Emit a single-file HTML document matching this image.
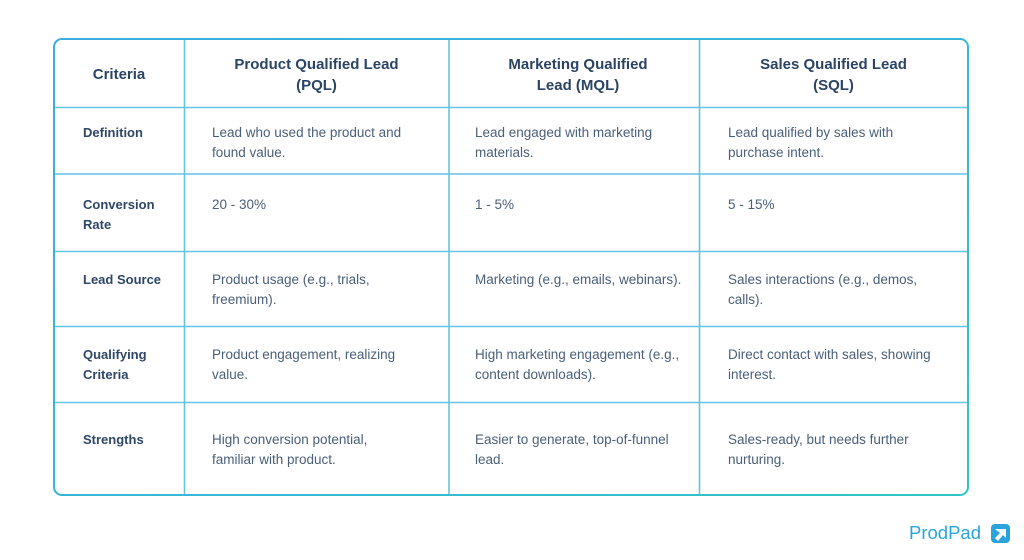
<!DOCTYPE html>
<html>
<head>
<meta charset="utf-8">
<style>
  html,body{margin:0;padding:0;background:#fff;}
  body{width:1024px;height:560px;position:relative;overflow:hidden;font-family:"Liberation Sans",sans-serif;}
  .t{position:absolute;white-space:nowrap;}
  .h{font-weight:bold;font-size:15px;line-height:21px;color:#2b4463;text-align:center;}
  .l{font-weight:bold;font-size:13px;line-height:20px;color:#2e4766;}
  .b{font-size:13.5px;line-height:20px;color:#4a5f78;}
  .logo{position:absolute;left:909px;top:521px;font-size:18.5px;color:#2aa5dc;line-height:24px;}
</style>
</head>
<body>
<svg width="1024" height="560" style="position:absolute;left:0;top:0">
  <defs>
    <linearGradient id="g" x1="0" y1="0" x2="1" y2="1">
      <stop offset="0" stop-color="#39aedf"/>
      <stop offset="0.6" stop-color="#37b8d8"/>
      <stop offset="1" stop-color="#2ec6c3"/>
    </linearGradient>
  </defs>
  <g stroke="#62c5e3" stroke-width="1.6">
    <line x1="184.5" y1="39" x2="184.5" y2="495"/>
    <line x1="449" y1="39" x2="449" y2="495"/>
    <line x1="699.5" y1="39" x2="699.5" y2="495"/>
    <line x1="54" y1="107.5" x2="968" y2="107.5"/>
    <line x1="54" y1="174" x2="968" y2="174"/>
    <line x1="54" y1="251.5" x2="968" y2="251.5"/>
    <line x1="54" y1="326.5" x2="968" y2="326.5"/>
    <line x1="54" y1="402.5" x2="968" y2="402.5"/>
  </g>
  <rect x="54" y="39" width="914" height="456" rx="8" ry="8" fill="none" stroke="url(#g)" stroke-width="2"/>
  <!-- logo icon -->
  <rect x="991" y="524" width="19" height="19" rx="4" fill="#2aa5dc"/>
  <path d="M995 529 L1006 529 L1006 538 L1003 535 L998 541 L995 538 L1000 533 Z" fill="#fff"/>
</svg>

<!-- header -->
<div class="t h" style="left:54px;width:130px;top:63.5px;">Criteria</div>
<div class="t h" style="left:184px;width:295px;margin-left:-15px;top:53.5px;">Product Qualified Lead<br>(PQL)</div>
<div class="t h" style="left:449px;width:258px;top:53.5px;">Marketing Qualified<br>Lead (MQL)</div>
<div class="t h" style="left:699px;width:269px;top:53.5px;">Sales Qualified Lead<br>(SQL)</div>

<!-- labels -->
<div class="t l" style="left:83px;top:123px;">Definition</div>
<div class="t l" style="left:83px;top:195px;">Conversion<br>Rate</div>
<div class="t l" style="left:83px;top:270px;">Lead Source</div>
<div class="t l" style="left:83px;top:345px;">Qualifying<br>Criteria</div>
<div class="t l" style="left:83px;top:430px;">Strengths</div>

<!-- PQL -->
<div class="t b" style="left:212px;top:123px;">Lead who used the product and<br>found value.</div>
<div class="t b" style="left:212px;top:195px;">20 - 30%</div>
<div class="t b" style="left:212px;top:270px;">Product usage (e.g., trials,<br>freemium).</div>
<div class="t b" style="left:212px;top:345px;">Product engagement, realizing<br>value.</div>
<div class="t b" style="left:212px;top:430px;">High conversion potential,<br>familiar with product.</div>

<!-- MQL -->
<div class="t b" style="left:475px;top:123px;">Lead engaged with marketing<br>materials.</div>
<div class="t b" style="left:475px;top:195px;">1 - 5%</div>
<div class="t b" style="left:475px;top:270px;">Marketing (e.g., emails, webinars).</div>
<div class="t b" style="left:475px;top:345px;">High marketing engagement (e.g.,<br>content downloads).</div>
<div class="t b" style="left:475px;top:430px;">Easier to generate, top-of-funnel<br>lead.</div>

<!-- SQL -->
<div class="t b" style="left:728px;top:123px;">Lead qualified by sales with<br>purchase intent.</div>
<div class="t b" style="left:728px;top:195px;">5 - 15%</div>
<div class="t b" style="left:728px;top:270px;">Sales interactions (e.g., demos,<br>calls).</div>
<div class="t b" style="left:728px;top:345px;">Direct contact with sales, showing<br>interest.</div>
<div class="t b" style="left:728px;top:430px;">Sales-ready, but needs further<br>nurturing.</div>

<div class="logo">ProdPad</div>
</body>
</html>
